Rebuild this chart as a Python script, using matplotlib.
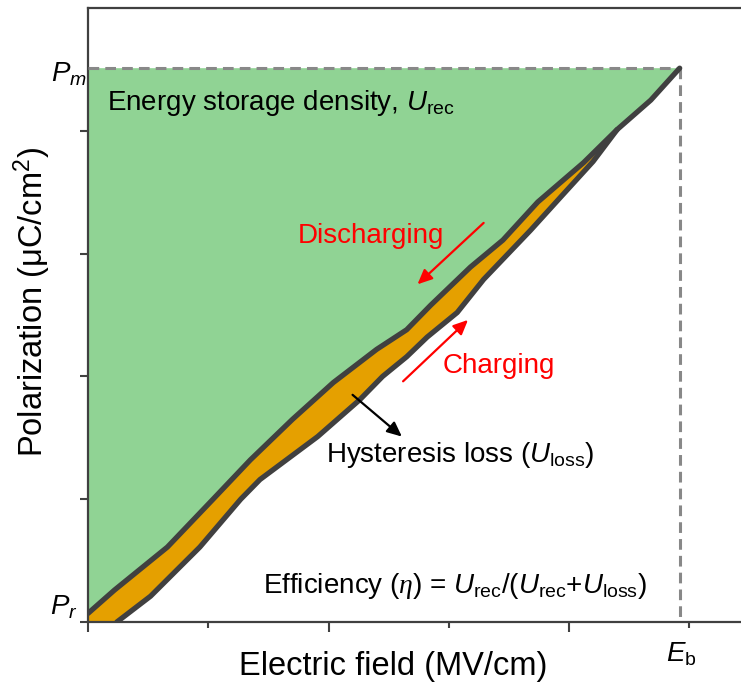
import matplotlib.pyplot as plt

plt.rcParams['font.family'] = ['Liberation Sans', 'DejaVu Sans']
plt.rcParams['mathtext.fontset'] = 'custom'
plt.rcParams['mathtext.rm'] = 'Liberation Sans'
plt.rcParams['mathtext.it'] = 'Liberation Sans:italic'
plt.rcParams['mathtext.sf'] = 'Liberation Serif:italic'

# Schematic P-E loop (arbitrary units)
P_m = 4.51
P_r = 0.07
E_b = 4.92

# discharging branch (upper), from P_r up to (E_b, P_m)
upper_E = [0.0, 0.22, 0.66, 1.04, 1.35, 1.70, 2.04, 2.40, 2.65, 2.85, 3.18,
           3.45, 3.74, 4.12, 4.40, 4.68, 4.92]
upper_P = [0.07, 0.26, 0.61, 1.00, 1.32, 1.65, 1.95, 2.22, 2.38, 2.58, 2.89,
           3.11, 3.42, 3.74, 4.01, 4.25, 4.51]

# charging branch (lower), joins the upper branch at (4.40, 4.01)
lower_E = [0.24, 0.52, 0.93, 1.27, 1.43, 1.91, 2.26, 2.45, 2.65, 2.82, 3.07,
           3.29, 3.68, 3.93, 4.20, 4.40]
lower_P = [0.0, 0.21, 0.61, 1.00, 1.16, 1.51, 1.81, 2.00, 2.16, 2.32, 2.52,
           2.79, 3.19, 3.46, 3.75, 4.01]

x_major = [0, 2, 4]
x_minor = [1, 3, 5]
y_ticks = [0, 1, 2, 3, 4]

green = '#90d394'
orange = '#e5a000'
outline = '#404040'
dash_grey = '#888888'

fig = plt.figure(figsize=(7.41, 6.95), dpi=100)
ax = fig.add_axes([88 / 741, 73 / 695, 653 / 741, 614 / 695])
ax.set_xlim(0, 5.43)
ax.set_ylim(0, 5)

# recoverable energy: area left of the discharging branch, below P_m
green_x = [0.0] + upper_E + [0.0]
green_y = [P_m] + upper_P + [P_m]
ax.fill(green_x, green_y, color=green, lw=0, zorder=1)

# loss: area enclosed between the two branches
m = upper_E.index(lower_E[-1])
loop_x = upper_E[:m + 1] + lower_E[::-1] + [0.0]
loop_y = upper_P[:m + 1] + lower_P[::-1] + [0.0]
ax.fill(loop_x, loop_y, color=orange, lw=0, zorder=2)

# P_m and E_b guide lines
ax.plot([0, E_b], [P_m, P_m], color=dash_grey, lw=2.2, dashes=(3.5, 2), zorder=3)
ax.plot([E_b, E_b], [P_m, 0], color=dash_grey, lw=2.2, dashes=(3.5, 2), zorder=3)

# loop outlines
line_kw = dict(color=outline, lw=3.8, solid_joinstyle='round',
               solid_capstyle='round', zorder=4)
ax.plot(upper_E, upper_P, **line_kw)
ax.plot(lower_E, lower_P, **line_kw)

# annotations
fs = 20
ax.text(0.16, 4.17, 'Energy storage density, $U_\\mathrm{rec}$', fontsize=fs,
        va='baseline', zorder=5)
ax.text(2.35, 3.09, 'Discharging', color='red', fontsize=fs, ha='center',
        va='baseline', zorder=5)
ax.text(2.95, 2.03, 'Charging', color='red', fontsize=fs, va='baseline', zorder=5)
ax.text(1.98, 1.30, 'Hysteresis loss ($U_\\mathrm{loss}$)', fontsize=fs,
        va='baseline', zorder=5)
ax.text(1.455, 0.24,
        'Efficiency ($\\mathsf{\\eta}$) = $U_\\mathrm{rec}$/($U_\\mathrm{rec}$+$U_\\mathrm{loss}$)',
        fontsize=fs, va='baseline', zorder=5)

arrow_red = dict(arrowstyle='-|>,head_length=0.55,head_width=0.25', color='red',
                 lw=1.6, shrinkA=0, shrinkB=0, mutation_scale=16)
arrow_black = dict(arrow_red, color='black')
ax.annotate('', xy=(2.74, 2.75), xytext=(3.29, 3.25), arrowprops=arrow_red, zorder=5)
ax.annotate('', xy=(3.16, 2.46), xytext=(2.62, 1.96), arrowprops=arrow_red, zorder=5)
ax.annotate('', xy=(2.61, 1.51), xytext=(2.20, 1.85), arrowprops=arrow_black, zorder=5)

# P_m, P_r and E_b markers on the axes
ax.text(-0.01, 4.40, '$P_m$', fontsize=fs, ha='right', va='baseline', clip_on=False)
ax.text(-0.09, 0.06, '$P_r$', fontsize=fs, ha='right', va='baseline', clip_on=False)
ax.text(4.93, -0.32, '$E_\\mathrm{b}$', fontsize=fs, ha='center', va='baseline',
        clip_on=False)

# axes styling
ax.set_xticks(x_major)
ax.set_xticks(x_minor, minor=True)
ax.set_yticks(y_ticks)
ax.set_xticklabels([])
ax.set_yticklabels([])
ax.tick_params(axis='x', which='major', length=7, width=1.5, color=outline)
ax.tick_params(axis='x', which='minor', length=4, width=1.5, color=outline)
ax.tick_params(axis='y', length=6, width=1.5, color=outline)
ax.spines['right'].set_visible(False)
for side in ['left', 'bottom', 'top']:
    ax.spines[side].set_linewidth(1.6)
    ax.spines[side].set_color(outline)

ax.set_xlabel('Electric field (MV/cm)', fontsize=23.5, va='baseline')
ax.xaxis.set_label_coords(0.467, -0.0863)
ax.set_ylabel('Polarization (μC/cm$^\\mathrm{2}$)', fontsize=23.5, va='center')
ax.yaxis.set_label_coords(-0.086, 0.521)

fig.savefig('out.png', dpi=100)
